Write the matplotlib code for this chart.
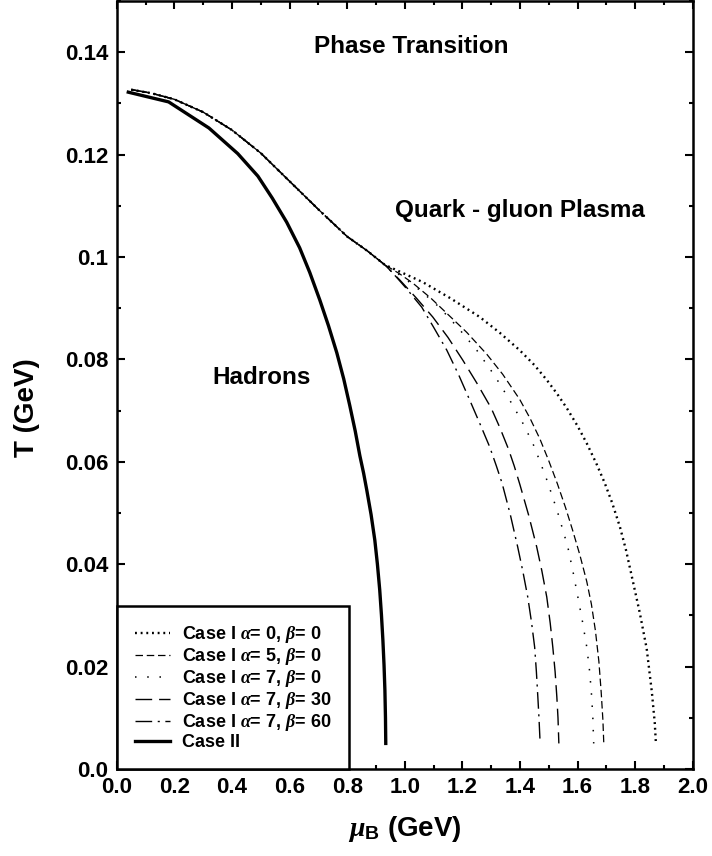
import matplotlib
matplotlib.use("Agg")
import matplotlib.pyplot as plt
from matplotlib.ticker import MultipleLocator, FormatStrFormatter

plt.rcParams['font.family'] = ['Liberation Sans', 'DejaVu Sans']
plt.rcParams['font.weight'] = 'bold'
plt.rcParams['mathtext.fontset'] = 'custom'
plt.rcParams['mathtext.it'] = 'Liberation Serif:italic'
plt.rcParams['mathtext.rm'] = 'Liberation Sans:bold'
plt.rcParams['mathtext.bf'] = 'Liberation Sans:bold'

# Common low-mu part of Case I curves
common_mu = [0.05, 0.12, 0.2, 0.3, 0.4, 0.5, 0.6, 0.7, 0.8, 0.87, 0.93]
common_T = [0.1327, 0.1320, 0.1308, 0.1283, 0.1248, 0.1203, 0.1148, 0.1093, 0.1040, 0.1012, 0.0985]

# Branches (above mu ~ 0.93)
a0b0_mu = [1.0625, 1.16, 1.26, 1.33, 1.399, 1.45, 1.493, 1.53, 1.5625, 1.60, 1.632, 1.665,
           1.694, 1.72, 1.747, 1.768, 1.788, 1.816, 1.840, 1.858, 1.868, 1.872]
a0b0_T = [0.0951, 0.0919, 0.0883, 0.0852, 0.0818, 0.0789, 0.0760, 0.0732, 0.0705, 0.0670, 0.0636, 0.0597,
          0.0559, 0.0520, 0.0473, 0.0428, 0.0377, 0.0305, 0.0235, 0.0150, 0.0090, 0.005]

a5b0_mu = [0.98, 1.028, 1.09, 1.146, 1.215, 1.285, 1.34, 1.399, 1.435, 1.469, 1.50, 1.53, 1.558,
           1.583, 1.608, 1.632, 1.648, 1.662, 1.674, 1.682, 1.688, 1.691]
a5b0_T = [0.0968, 0.0949, 0.0920, 0.0890, 0.0853, 0.0810, 0.0771, 0.0722, 0.0685, 0.0645, 0.0602, 0.0557, 0.0511,
          0.0466, 0.0418, 0.0366, 0.0322, 0.0270, 0.0210, 0.0150, 0.0095, 0.005]

a7b0_mu = [0.993, 1.055, 1.12, 1.185, 1.25, 1.31, 1.365, 1.405, 1.444, 1.47, 1.495, 1.53, 1.566,
           1.585, 1.601, 1.617, 1.632, 1.642, 1.649, 1.653, 1.656]
a7b0_T = [0.0961, 0.0934, 0.0902, 0.0862, 0.0818, 0.0770, 0.0720, 0.0681, 0.0637, 0.0600, 0.0562, 0.0503, 0.0434,
          0.0383, 0.0336, 0.0288, 0.0238, 0.0190, 0.0141, 0.0100, 0.005]

a7b30_mu = [0.983, 1.04, 1.097, 1.15, 1.201, 1.25, 1.30, 1.33, 1.36, 1.38, 1.40, 1.43, 1.458,
            1.476, 1.493, 1.505, 1.514, 1.522, 1.528, 1.532, 1.535]
a7b30_T = [0.0955, 0.0920, 0.0883, 0.0843, 0.0799, 0.0754, 0.0705, 0.0667, 0.0625, 0.0592, 0.0555, 0.0496, 0.0434,
           0.0387, 0.0336, 0.0285, 0.0238, 0.0190, 0.0141, 0.0100, 0.005]

a7b60_mu = [0.958, 1.005, 1.059, 1.10, 1.146, 1.187, 1.226, 1.262, 1.295, 1.318, 1.338, 1.366, 1.392,
            1.41, 1.427, 1.44, 1.451, 1.457, 1.462, 1.466, 1.47]
a7b60_T = [0.0969, 0.0939, 0.0902, 0.0863, 0.0818, 0.0770, 0.0720, 0.0673, 0.0629, 0.0592, 0.0558, 0.0498, 0.0434,
           0.0386, 0.0336, 0.0287, 0.0238, 0.0190, 0.0141, 0.0100, 0.005]

case2_mu = [0.04, 0.18, 0.32, 0.42, 0.49, 0.54, 0.59, 0.635, 0.67, 0.705, 0.735, 0.764, 0.788, 0.809,
            0.828, 0.844, 0.857, 0.868, 0.883, 0.896, 0.905, 0.913, 0.919, 0.924, 0.928, 0.931, 0.933, 0.934]
case2_T = [0.1322, 0.1303, 0.1252, 0.1202, 0.1158, 0.1115, 0.1068, 0.1018, 0.0970, 0.0916, 0.0866, 0.0813, 0.0762, 0.0710,
           0.0660, 0.0612, 0.0578, 0.0545, 0.0497, 0.0447, 0.0400, 0.0350, 0.0301, 0.0252, 0.0203, 0.0154, 0.0100, 0.005]

labels = [r'Case I $\alpha$= 0, $\beta$= 0',
          r'Case I $\alpha$= 5, $\beta$= 0',
          r'Case I $\alpha$= 7, $\beta$= 0',
          r'Case I $\alpha$= 7, $\beta$= 30',
          r'Case I $\alpha$= 7, $\beta$= 60',
          'Case II']

fig = plt.figure(figsize=(7.12, 8.56), dpi=100)
ax = fig.add_axes([0.164, 0.1016, 0.809, 0.8972])

branches = [
    (a0b0_mu, a0b0_T, dict(lw=1.7, linestyle=(0, (0.8, 1.6)))),
    (a5b0_mu, a5b0_T, dict(lw=0.9, linestyle=(0, (6, 3)))),
    (a7b0_mu, a7b0_T, dict(lw=1.1, linestyle=(0, (1, 7)))),
    (a7b30_mu, a7b30_T, dict(lw=1.0, linestyle=(0, (12, 5)))),
    (a7b60_mu, a7b60_T, dict(lw=1.0, linestyle=(0, (12, 4, 1.5, 4)))),
]
for (mu, T, st), lab in zip(branches, labels[:5]):
    ax.plot(common_mu + mu, common_T + T, color='black', label=lab, **st)
ax.plot(case2_mu, case2_T, color='black', lw=2.4, label=labels[5])

ax.set_xlim(0, 2.0)
ax.set_ylim(0, 0.15)
ax.xaxis.set_major_locator(MultipleLocator(0.2))
ax.xaxis.set_minor_locator(MultipleLocator(0.1))
ax.yaxis.set_minor_locator(MultipleLocator(0.01))
ax.xaxis.set_major_formatter(FormatStrFormatter('%.1f'))
ax.set_yticks([0.0, 0.02, 0.04, 0.06, 0.08, 0.1, 0.12, 0.14])
ax.set_yticklabels(['0.0', '0.02', '0.04', '0.06', '0.08', '0.1', '0.12', '0.14'])
ax.tick_params(which='both', direction='in', top=True, right=True, width=1.5)
ax.tick_params(which='major', length=6, labelsize=16, pad=6)
ax.tick_params(which='minor', length=3)
for lbl in ax.get_xticklabels() + ax.get_yticklabels():
    lbl.set_fontweight('bold')
for s in ax.spines.values():
    s.set_linewidth(1.8)

ax.set_xlabel(r'$\mu_\mathbf{B}$ (GeV)', fontsize=20, fontweight='bold')
ax.set_ylabel('T (GeV)', fontsize=20, fontweight='bold')
ax.xaxis.set_label_coords(0.5, -0.058)
ax.yaxis.set_label_coords(-0.134, 0.47)

ax.text(1.024, 0.1412, 'Phase Transition', fontsize=17.5, fontweight='bold', ha='center', va='center')
ax.text(1.40, 0.1090, 'Quark - gluon Plasma', fontsize=17.5, fontweight='bold', ha='center', va='center')
ax.text(0.503, 0.0764, 'Hadrons', fontsize=17.5, fontweight='bold', ha='center', va='center')

leg = ax.legend(loc='lower left', borderaxespad=0, fancybox=False, frameon=True,
                edgecolor='black', framealpha=1, prop={'weight': 'bold', 'size': 13},
                handlelength=1.95, handletextpad=0.65, labelspacing=0.05, borderpad=1.0)
leg.get_frame().set_linewidth(1.8)

fig.savefig('out.png', dpi=100)
